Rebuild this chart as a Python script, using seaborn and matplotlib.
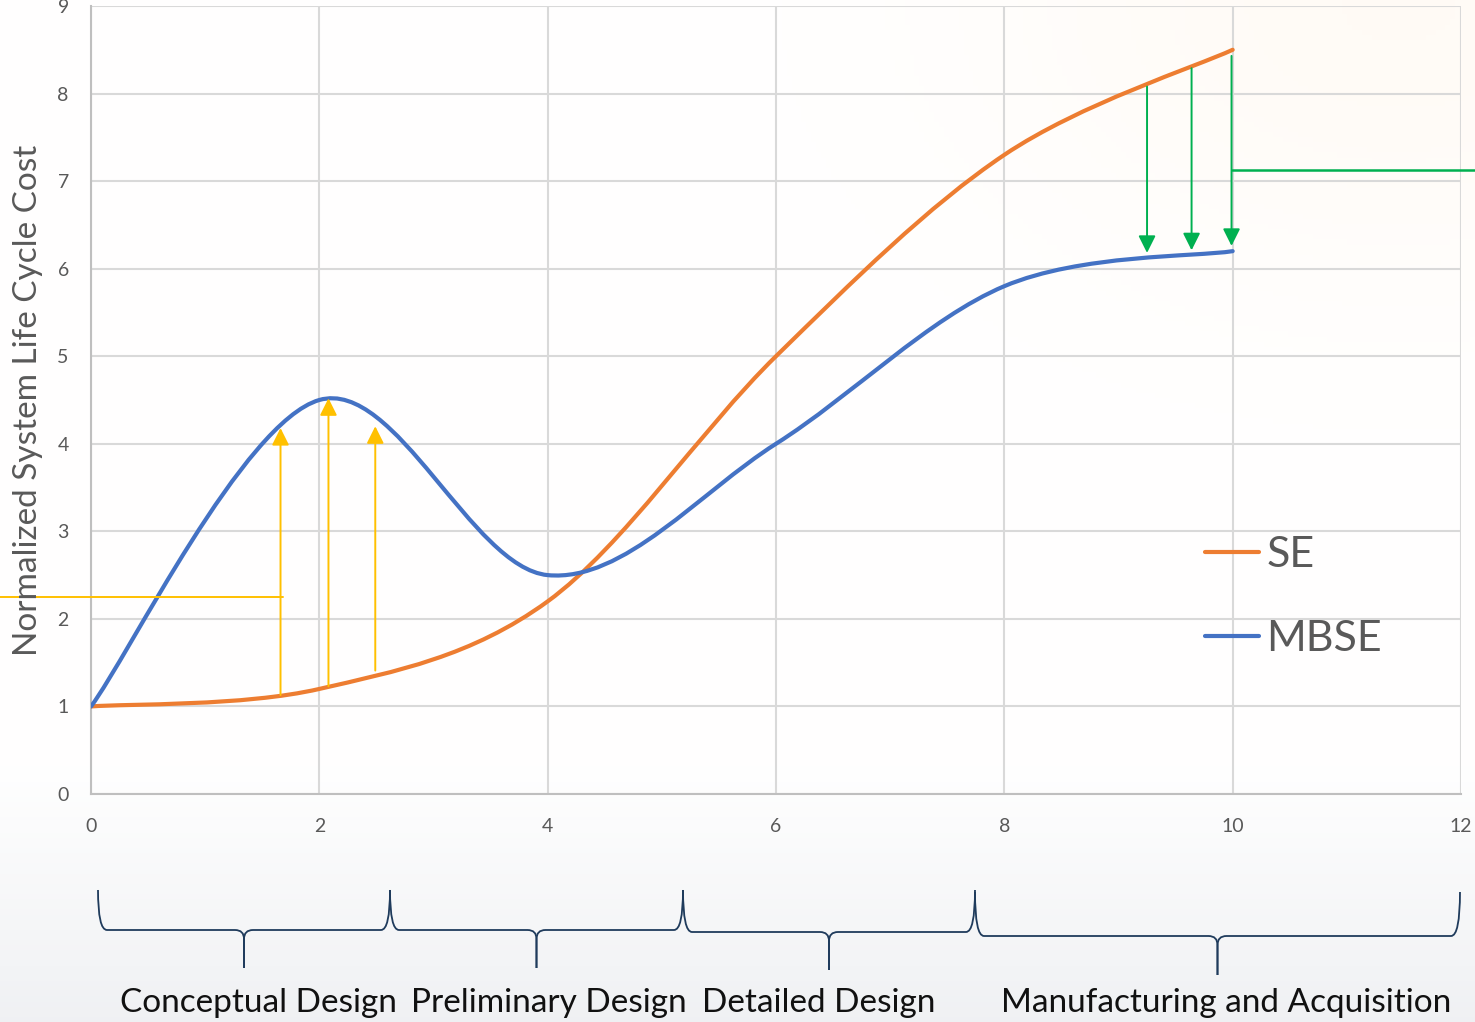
import numpy as np
import matplotlib
matplotlib.use("Agg")
import matplotlib.pyplot as plt
from matplotlib.path import Path
from matplotlib.patches import PathPatch
from matplotlib.lines import Line2D
import seaborn as sns

# Data
stage = [0, 2, 4, 6, 8, 10]
se_cost = [1.0, 1.2, 2.2, 5.0, 7.3, 8.5]
mbse_cost = [1.0, 4.5, 2.5, 4.0, 5.8, 6.2]

# early investment arrows (SE -> MBSE)
gain_x = [1.66, 2.08, 2.49]
gain_from = [1.13, 1.23, 1.41]
gain_to = [4.18, 4.52, 4.20]
gain_callout_y = 2.25

# late savings arrows (SE -> MBSE)
saving_x = [9.25, 9.64, 9.99]
saving_from = [8.08, 8.29, 8.43]
saving_to = [6.18, 6.21, 6.26]
saving_callout_y = 7.13

phases = ["Conceptual Design", "Preliminary Design", "Detailed Design",
          "Manufacturing and Acquisition"]

W, H = 1475, 1022
ORANGE, BLUE = "#ED7D31", "#4472C4"
YELLOW, GREEN = "#FFC000", "#00B050"
GRAY_TXT = "#595959"

sns.set_theme(style="whitegrid")
plt.rcParams["font.family"] = ["Lato", "DejaVu Sans"]


def smooth_path(xs, ys):
    # Excel-style smoothed line: cubic Bezier through the data points
    pts = np.column_stack([xs, ys]).astype(float)
    ext = np.vstack([pts[0], pts, pts[-1]])
    verts, codes = [pts[0]], [Path.MOVETO]
    for i in range(len(pts) - 1):
        p0, p1, p2, p3 = ext[i], ext[i + 1], ext[i + 2], ext[i + 3]
        verts += [p1 + (p2 - p0) / 6, p2 - (p3 - p1) / 6, p2]
        codes += [Path.CURVE4] * 3
    return Path(verts, codes)


fig = plt.figure(figsize=(W / 100, H / 100), dpi=100)

# faint slide background
bg = fig.add_axes([0, 0, 1, 1], zorder=-10)
gy, gx = np.mgrid[0:1:200j, 0:1:300j]
img = np.ones((200, 300, 3))
t = np.clip((gy - 0.75) / 0.25, 0, 1)[..., None]
img = img * (1 - t) + np.array([0.94, 0.945, 0.955]) * t
w = (0.08 * np.exp(-((gx - 0.95) ** 2 / 0.08 + gy ** 2 / 0.08)))[..., None]
img = img * (1 - w) + np.array([1.0, 0.8, 0.55]) * w
bg.imshow(img, aspect="auto", extent=[0, 1, 0, 1], origin="upper")
bg.axis("off")

ax = fig.add_axes([91 / W, 1 - 794 / H, 1370 / W, 788 / H])
ax.set_facecolor("none")

ax.add_patch(PathPatch(smooth_path(stage, se_cost), fill=False, edgecolor=ORANGE,
                       lw=3, capstyle="round", zorder=3))
ax.add_patch(PathPatch(smooth_path(stage, mbse_cost), fill=False, edgecolor=BLUE,
                       lw=3, capstyle="round", zorder=3))

for x, y0, y1 in zip(gain_x, gain_from, gain_to):
    ax.annotate("", xy=(x, y1), xytext=(x, y0),
                arrowprops=dict(arrowstyle="-|>", color=YELLOW, lw=1.4,
                                mutation_scale=26, shrinkA=0, shrinkB=0), zorder=4)
for x, y0, y1 in zip(saving_x, saving_from, saving_to):
    ax.annotate("", xy=(x, y1), xytext=(x, y0),
                arrowprops=dict(arrowstyle="-|>", color=GREEN, lw=1.4,
                                mutation_scale=26, shrinkA=0, shrinkB=0), zorder=4)

ax.plot([-0.85, gain_x[0] + 0.02], [gain_callout_y] * 2, color=YELLOW, lw=1.4,
        clip_on=False, zorder=4)
ax.plot([saving_x[-1], 12.2], [saving_callout_y] * 2, color=GREEN, lw=1.8,
        clip_on=False, zorder=4)

ax.set_xlim(0, 12)
ax.set_ylim(0, 9)
ax.set_xticks(range(0, 13, 2))
ax.set_yticks(range(0, 10))
ax.grid(True, color="#D9D9D9", lw=1.5)
ax.tick_params(axis="both", length=0, labelsize=14, colors=GRAY_TXT)
ax.tick_params(axis="x", pad=17)
ax.tick_params(axis="y", pad=16)
for side in ["top", "right"]:
    ax.spines[side].set_visible(False)
for side in ["left", "bottom"]:
    ax.spines[side].set_color("#BFBFBF")
    ax.spines[side].set_linewidth(1.5)

fig.text(28 / W, 1 - 400 / H, "Normalized System Life Cycle Cost", rotation=90,
         ha="center", va="center", fontsize=24, color=GRAY_TXT)

handles = [Line2D([], [], color=ORANGE, lw=3), Line2D([], [], color=BLUE, lw=3)]
ax.legend(handles, ["SE", "MBSE"], loc="center left",
          bbox_to_anchor=(1205 / W, 1 - 597 / H), bbox_transform=fig.transFigure,
          frameon=False, fontsize=31, labelcolor=GRAY_TXT, handlelength=1.25,
          handletextpad=0.17, labelspacing=1.05, borderpad=0, borderaxespad=0)

# phase braces below the chart (pixel layout)
brace_px = [(98, 390, 890, 930, 968), (390, 683, 890, 930, 968),
            (683, 975, 890, 932, 970), (975, 1460, 892, 936, 975)]
label_px = [258, 549, 819, 1226]
label_y = 1003
r = 9


def to_fig(pts):
    return [(px / W, 1 - py / H) for px, py in pts]


for (x0, x1, top, base, tip), lx, name in zip(brace_px, label_px, phases):
    mid = (x0 + x1) / 2
    for a, s in [(x0, 1), (x1, -1)]:
        pts = [(a, top), (a, base), (a + s * r, base), (mid - s * r, base),
               (mid, base), (mid, base + r), (mid, tip)]
        codes = [Path.MOVETO, Path.CURVE3, Path.CURVE3, Path.LINETO,
                 Path.CURVE3, Path.CURVE3, Path.LINETO]
        fig.patches.append(PathPatch(Path(to_fig(pts), codes), fill=False,
                                     edgecolor="#1F3B5C", lw=1.3,
                                     transform=fig.transFigure, figure=fig))
    fig.text(lx / W, 1 - label_y / H, name, ha="center", va="center",
             fontsize=24, color="#111111")

fig.savefig("out.png", dpi=100)
